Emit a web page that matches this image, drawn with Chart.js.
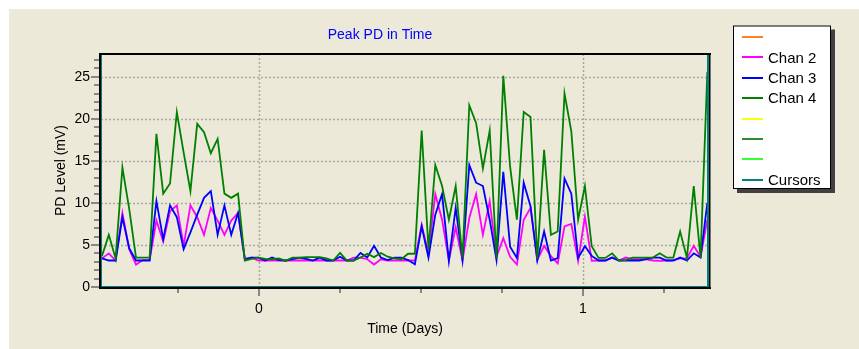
<!DOCTYPE html>
<html><head><meta charset="utf-8">
<script src="https://cdn.jsdelivr.net/npm/chart.js@4/dist/chart.umd.min.js"></script>
<style>html,body{margin:0;padding:0;background:#fff;overflow:hidden}</style>
</head><body>
<canvas id="c" width="859" height="349"></canvas>
<script>
// ---- data ----
const chartTitle = "Peak PD in Time";
const xTitle = "Time (Days)";
const yTitle = "PD Level (mV)";
const startDay = -0.4846;     // time of first sample (days)
const stepDays = 0.021;       // sampling interval (days)
const chan2 = [3.4,4.0,3.15,8.8,4.5,2.67,3.2,3.2,7.9,5.4,9.0,9.7,4.9,9.7,8.3,6.2,9.4,7.9,6.2,7.9,8.8,
  3.3,3.5,3.15,3.15,3.15,3.15,3.15,3.15,3.15,3.15,3.15,3.15,3.15,3.15,3.15,3.15,3.5,3.5,3.3,2.67,3.3,3.15,3.15,3.15,3.15,3.15,
  7.4,4.0,11.05,8.0,3.15,7.1,3.15,8.2,11.05,6.2,10.2,3.6,5.8,3.6,2.67,8.0,9.4,3.2,4.9,3.66,2.8,7.2,7.5,3.1,8.35,3.1,
  3.15,3.15,3.5,3.15,3.5,3.3,3.3,3.3,3.15,3.1,3.15,3.2,3.4,3.4,4.9,3.6,8.0];
const chan3 = [3.4,3.15,3.15,8.3,4.6,3.15,3.15,3.15,10.2,5.7,9.7,8.3,4.5,6.5,8.6,10.6,11.4,6.2,9.7,6.2,8.8,
  3.3,3.5,3.5,3.15,3.5,3.2,3.15,3.3,3.5,3.35,3.15,3.5,3.15,3.15,3.6,3.15,3.15,4.05,3.5,4.9,3.5,3.2,3.5,3.5,3.2,2.7,
  7.2,3.5,8.6,11.05,3.1,9.4,3.2,14.5,12.4,12.0,8.0,3.2,13.7,4.8,3.45,12.4,9.6,3.15,6.6,3.15,3.45,12.9,11.1,3.45,4.85,3.7,
  3.15,3.15,3.5,3.15,3.15,3.15,3.15,3.3,3.5,3.5,3.15,3.15,3.5,3.15,4.0,3.5,10.0];
const chan4 = [3.7,6.2,3.4,14.2,9.3,3.5,3.5,3.5,18.2,11.1,12.3,20.8,16.0,11.4,19.4,18.4,15.9,17.6,11.1,10.6,11.1,
  3.15,3.35,3.5,3.35,3.3,3.4,3.1,3.5,3.5,3.55,3.55,3.55,3.4,3.15,4.05,3.15,3.15,3.5,3.95,3.55,4.05,3.6,3.4,3.3,3.95,3.95,
  18.6,4.5,14.5,12.0,8.0,12.0,3.45,21.6,19.5,14.1,18.6,3.4,25.1,14.3,8.0,20.8,20.2,3.35,16.3,6.2,6.6,23.0,18.5,8.0,12.0,4.84,
  3.46,3.46,4.0,3.15,3.2,3.5,3.5,3.5,3.5,4.0,3.5,3.5,6.6,3.46,12.0,3.46,25.6];
const legendLabels = ["", "Chan 2", "Chan 3", "Chan 4", "", "", "", "Cursors"];
const legendColors = ["#ff8020", "#ff00ff", "#0000ff", "#008000", "#ffff00", "#2e8b2e", "#33ff33", "#008080"];
const xMin = -0.4877, xMax = 1.3895, yMin = 0, yMax = 27.7;

const timeDays = chan2.map((_, i) => startDay + i * stepDays);
const pts = arr => arr.map((v, i) => ({x: timeDays[i], y: v}));

const FONT = '"Liberation Sans", Arial, sans-serif';
const BEIGE = '#ece9d8';

const decor = {
  id: 'decor',
  beforeDraw(chart) {
    const c = chart.ctx;
    c.save();
    c.fillStyle = '#ffffff'; c.fillRect(0, 0, chart.width, chart.height);
    c.fillStyle = BEIGE; c.fillRect(9, 9, chart.width - 9, chart.height - 9);
    c.restore();
  },
  beforeDatasetsDraw(chart) {
    const c = chart.ctx, a = chart.chartArea, xs = chart.scales.x, ys = chart.scales.y;
    c.save();
    c.strokeStyle = '#a8a8a8'; c.lineWidth = 1.5; c.setLineDash([2, 2]);
    for (let v = 5; v <= 25; v += 5) {
      const y = Math.round(ys.getPixelForValue(v)) + 0.5;
      c.beginPath(); c.moveTo(a.left, y); c.lineTo(a.right, y); c.stroke();
    }
    for (const v of [0, 1]) {
      const x = Math.round(xs.getPixelForValue(v)) + 0.5;
      c.beginPath(); c.moveTo(x, a.top); c.lineTo(x, a.bottom); c.stroke();
    }
    c.restore();
  },
  afterDatasetsDraw(chart) {
    const c = chart.ctx, a = chart.chartArea, xs = chart.scales.x, ys = chart.scales.y;
    c.save();
    // tick marks
    c.strokeStyle = '#888888'; c.lineWidth = 2;
    for (let v = 0; v <= 27; v++) {
      const y = Math.round(ys.getPixelForValue(v));
      const len = (v % 5 === 0) ? 8 : 5;
      c.beginPath(); c.moveTo(a.left - 2 - len, y); c.lineTo(a.left - 1, y); c.stroke();
    }
    for (let v = -0.25; v <= 1.26; v += 0.25) {
      const x = Math.round(xs.getPixelForValue(v));
      const major = Math.abs(v - Math.round(v)) < 1e-6;
      c.beginPath(); c.moveTo(x, a.bottom + 1); c.lineTo(x, a.bottom + (major ? 9 : 6)); c.stroke();
    }
    // plot frame
    c.fillStyle = '#000';
    c.fillRect(a.left - 2, a.top - 1, a.right - a.left + 4, 2);          // top
    c.fillRect(a.left - 2, a.top - 1, 2, a.bottom - a.top + 3);          // left black
    c.fillRect(a.left - 2, a.bottom, a.right - a.left + 4, 2);           // bottom black
    c.fillRect(a.right, a.top - 1, 1.5, a.bottom - a.top + 3);           // right black
    c.fillStyle = '#008080';
    c.fillRect(a.left, a.top + 1, 1, a.bottom - a.top - 1);              // left teal
    c.fillRect(a.left, a.bottom - 1, a.right - a.left, 1);               // bottom teal
    c.fillRect(a.right - 2, a.top + 1, 2, a.bottom - a.top - 1);         // right teal (cursor)
    // titles
    c.fillStyle = '#0000ff'; c.font = '14px ' + FONT; c.textAlign = 'center'; c.textBaseline = 'alphabetic';
    c.fillText(chartTitle, 380, 39);
    c.fillStyle = '#000';
    c.fillText(xTitle, (a.left + a.right) / 2, 332.5);
    c.save(); c.translate(64.5, (a.top + a.bottom) / 2); c.rotate(-Math.PI / 2);
    c.fillText(yTitle, 0, 0); c.restore();
    // legend
    const L = 733, T = 25.5, W = 98, H = 163.5;
    c.fillStyle = '#404040'; c.fillRect(L + 4, T + 4, W, H);
    c.fillStyle = '#ffffff'; c.fillRect(L, T, W, H);
    c.strokeStyle = '#000'; c.lineWidth = 1; c.strokeRect(L + 0.5, T + 0.5, W - 1, H - 1);
    c.font = '15px ' + FONT; c.textAlign = 'left';
    legendLabels.forEach((lab, k) => {
      const y = 36.7 + 20.45 * k;
      c.strokeStyle = legendColors[k]; c.lineWidth = 2;
      c.beginPath(); c.moveTo(742, Math.round(y)); c.lineTo(763, Math.round(y)); c.stroke();
      c.fillStyle = '#000'; c.fillText(lab, 768, y + 5.4);
    });
    c.restore();
  }
};

new Chart(document.getElementById('c'), {
  type: 'line',
  data: {
    datasets: [
      {label: 'Chan 4', data: pts(chan4), borderColor: '#008000', order: 1},
      {label: 'Chan 3', data: pts(chan3), borderColor: '#0000ff', order: 2},
      {label: 'Chan 2', data: pts(chan2), borderColor: '#ff00ff', order: 3}
    ].map(d => Object.assign(d, {borderWidth: 1.8, pointRadius: 0, tension: 0, fill: false}))
  },
  options: {
    responsive: false, animation: false, devicePixelRatio: 1,
    layout: {padding: {left: 0, top: 54, right: 150, bottom: 0}},
    plugins: {legend: {display: false}, tooltip: {enabled: false}, title: {display: false}},
    scales: {
      x: {
        type: 'linear', min: xMin, max: xMax,
        grid: {display: false, drawTicks: false}, border: {display: false},
        ticks: {stepSize: 0.25, includeBounds: false, autoSkip: false, maxRotation: 0, padding: 14,
          color: '#000', font: {family: FONT, size: 14},
          callback: v => Math.abs(v - Math.round(v)) < 1e-6 ? String(Math.round(v)) : ''},
        afterFit: s => { s.height = 62; }
      },
      y: {
        min: yMin, max: yMax,
        grid: {display: false, drawTicks: false}, border: {display: false},
        ticks: {stepSize: 1, autoSkip: false, padding: 11, color: '#000', font: {family: FONT, size: 14},
          callback: v => (Math.abs(v % 5) < 1e-6 && v <= 25) ? String(v) : ''},
        afterFit: s => { s.width = 101; }
      }
    }
  },
  plugins: [decor]
});
</script>
</body></html>
